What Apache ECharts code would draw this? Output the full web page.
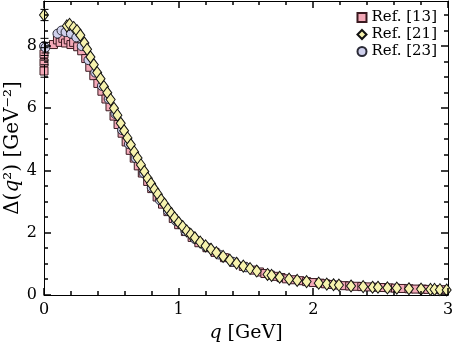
<!DOCTYPE html>
<html>
<head>
<meta charset="utf-8">
<script src="https://cdn.jsdelivr.net/npm/echarts@6/dist/echarts.min.js"></script>
<style>
  html, body { margin: 0; padding: 0; background: #fff; }
  #chart { width: 454px; height: 350px; }
</style>
</head>
<body>
<div id="chart"></div>
<script>
// lattice data: [q (GeV), Delta (GeV^-2)]
const ref13 = [
  [0, 7.2], [0, 7.47], [0, 7.75], [0.07, 8.05], [0.1, 8.2], [0.12, 8.12], [0.14, 8.25], [0.16, 8.1],
  [0.18, 8.2], [0.2, 8.05], [0.22, 8.12], [0.25, 7.98], [0.28, 7.85], [0.31, 7.6], [0.34, 7.32],
  [0.37, 7.05], [0.4, 6.8], [0.43, 6.55], [0.46, 6.3], [0.49, 6.05], [0.52, 5.75], [0.55, 5.48],
  [0.58, 5.2], [0.61, 4.92], [0.64, 4.65], [0.67, 4.4], [0.7, 4.15], [0.73, 3.92], [0.77, 3.65],
  [0.8, 3.42], [0.84, 3.15], [0.88, 2.92], [0.92, 2.68], [0.96, 2.46], [1.0, 2.26], [1.05, 2.04],
  [1.1, 1.85], [1.15, 1.68], [1.21, 1.52], [1.27, 1.37], [1.34, 1.2], [1.41, 1.05], [1.48, 0.92],
  [1.56, 0.8], [1.6, 0.74], [1.64, 0.69], [1.68, 0.64], [1.72, 0.6], [1.76, 0.56], [1.8, 0.52],
  [1.85, 0.49], [1.9, 0.46], [1.95, 0.43], [2.0, 0.4], [2.05, 0.38], [2.09, 0.36], [2.13, 0.34],
  [2.18, 0.32], [2.23, 0.3], [2.27, 0.29], [2.32, 0.28], [2.36, 0.27], [2.41, 0.26], [2.46, 0.25],
  [2.51, 0.24], [2.56, 0.23], [2.61, 0.22], [2.66, 0.21], [2.71, 0.2], [2.76, 0.19], [2.81, 0.19],
  [2.85, 0.18], [2.9, 0.17], [2.95, 0.17]
];
const ref21 = [
  [0, 9.0], [0.17, 8.65], [0.19, 8.7], [0.22, 8.6], [0.245, 8.5], [0.27, 8.35], [0.3, 8.1],
  [0.32, 7.9], [0.345, 7.65], [0.37, 7.4], [0.395, 7.15], [0.42, 6.95], [0.445, 6.7], [0.47, 6.5],
  [0.495, 6.28], [0.52, 6.0], [0.545, 5.78], [0.57, 5.52], [0.595, 5.28], [0.62, 5.05], [0.645, 4.83],
  [0.67, 4.6], [0.695, 4.4], [0.72, 4.18], [0.745, 3.97], [0.77, 3.75], [0.795, 3.58], [0.82, 3.4],
  [0.845, 3.24], [0.87, 3.06], [0.895, 2.92], [0.92, 2.76], [0.945, 2.62], [0.97, 2.48], [1.0, 2.33],
  [1.03, 2.2], [1.06, 2.06], [1.09, 1.95], [1.12, 1.84], [1.16, 1.7], [1.2, 1.58], [1.24, 1.47],
  [1.28, 1.36], [1.33, 1.24], [1.38, 1.12], [1.43, 1.02], [1.48, 0.93], [1.53, 0.85], [1.58, 0.77],
  [1.66, 0.66], [1.69, 0.63], [1.75, 0.57], [1.82, 0.51], [1.88, 0.47], [1.95, 0.43], [2.04, 0.38],
  [2.1, 0.35], [2.15, 0.33], [2.19, 0.32], [2.28, 0.29], [2.37, 0.27], [2.44, 0.25], [2.48, 0.25],
  [2.55, 0.23], [2.62, 0.22], [2.71, 0.2], [2.8, 0.19], [2.87, 0.18], [2.9, 0.18], [2.94, 0.17],
  [2.99, 0.16]
];
const ref23 = [
  [0, 8.0], [0.01, 7.95], [0.1, 8.4], [0.13, 8.5], [0.16, 8.45], [0.2, 8.4], [0.24, 8.28],
  [0.28, 8.0], [0.33, 7.55], [0.38, 7.15], [0.43, 6.72], [0.48, 6.3], [0.53, 5.82], [0.58, 5.3],
  [0.63, 4.85], [0.68, 4.4], [0.74, 3.92], [0.8, 3.45], [0.86, 3.05], [0.92, 2.7], [0.98, 2.38],
  [1.05, 2.05], [1.12, 1.8], [1.2, 1.56], [1.3, 1.3], [1.4, 1.07], [1.5, 0.89]
];
// error bars visible near q = 0: [q, low, high]
const errBars = [
  [0, 8.82, 9.18], [0, 7.0, 7.4], [0, 7.55, 7.95], [0, 7.7, 8.25], [0.01, 7.78, 8.12]
];
const xTicks = [0, 1, 2, 3];
const xMinorTicks = [0.2, 0.4, 0.6, 0.8, 1.2, 1.4, 1.6, 1.8, 2.2, 2.4, 2.6, 2.8];
const yTicks = [0, 2, 4, 6, 8];
const yMinorTicks = [0.5, 1, 1.5, 2.5, 3, 3.5, 4.5, 5, 5.5, 6.5, 7, 7.5, 8.5, 9];
const yMax = 9.45;

const serif = 'DejaVu Serif';
const chart = echarts.init(document.getElementById('chart'), null, { renderer: 'canvas' });

function xAx(pos, labels) {
  return {
    type: 'value', position: pos, min: xTicks[0], max: xTicks[xTicks.length - 1], interval: 1,
    axisLine: { show: true, onZero: false, lineStyle: { color: '#000', width: 1 } },
    axisTick: { show: false }, minorTick: { show: false }, splitLine: { show: false },
    axisLabel: { show: labels, color: '#000', fontFamily: serif, fontSize: 16, margin: 7 },
    name: labels ? '{i|q} [GeV]' : '', nameLocation: 'middle', nameGap: 29, nameMoveOverlap: false,
    nameTextStyle: { color: '#000', fontFamily: serif, fontSize: 19,
      rich: { i: { fontStyle: 'italic', fontFamily: serif, fontSize: 19, color: '#000' } } }
  };
}
function yAx(pos, labels) {
  return {
    type: 'value', position: pos, min: 0, max: yMax, interval: 2,
    axisLine: { show: true, onZero: false, lineStyle: { color: '#000', width: 1 } },
    axisTick: { show: false }, minorTick: { show: false }, splitLine: { show: false },
    axisLabel: { show: labels, color: '#000', fontFamily: serif, fontSize: 16, margin: 7, showMaxLabel: false },
    name: labels ? 'Δ({i|q}²) [GeV⁻²]' : '', nameLocation: 'middle', nameGap: 21, nameRotate: 90,
    nameMoveOverlap: false,
    nameTextStyle: { color: '#000', fontFamily: serif, fontSize: 20,
      rich: { i: { fontStyle: 'italic', fontFamily: serif, fontSize: 20, color: '#000' } } }
  };
}

// tick marks as [x, y, kind]: kind 0/1 = x major/minor, 2/3 = y major/minor
const tickData = []
  .concat(xTicks.map(function (v) { return [v, 0.1, 0]; }))
  .concat(xMinorTicks.map(function (v) { return [v, 0.1, 1]; }))
  .concat(yTicks.map(function (v) { return [0.1, v, 2]; }))
  .concat(yMinorTicks.map(function (v) { return [0.1, v, 3]; }));

function renderTick(params, api) {
  const kind = api.value(2);
  const len = (kind === 0 || kind === 2) ? 7 : 4;
  const st = { stroke: '#000', lineWidth: 1.5, fill: null };
  if (kind < 2) {
    const b = api.coord([api.value(0), 0]);
    const t = api.coord([api.value(0), yMax]);
    const x = Math.round(b[0]);
    return { type: 'group', children: [
      { type: 'line', shape: { x1: x, y1: b[1], x2: x, y2: b[1] - len }, style: st },
      { type: 'line', shape: { x1: x, y1: t[1], x2: x, y2: t[1] + len }, style: st }
    ] };
  }
  const l = api.coord([xTicks[0], api.value(1)]);
  const r = api.coord([xTicks[xTicks.length - 1], api.value(1)]);
  const y = Math.round(l[1]);
  return { type: 'group', children: [
    { type: 'line', shape: { x1: l[0], y1: y, x2: l[0] + len, y2: y }, style: st },
    { type: 'line', shape: { x1: r[0], y1: y, x2: r[0] - len, y2: y }, style: st }
  ] };
}

function renderErr(params, api) {
  const top = api.coord([api.value(0), api.value(2)]);
  const bot = api.coord([api.value(0), api.value(1)]);
  const x = Math.round(top[0]) + 0.5, w = 4;
  const st = { stroke: '#000', lineWidth: 1, fill: null };
  return { type: 'group', children: [
    { type: 'line', shape: { x1: x, y1: top[1], x2: x, y2: bot[1] }, style: st },
    { type: 'line', shape: { x1: x - w, y1: top[1], x2: x + w, y2: top[1] }, style: st },
    { type: 'line', shape: { x1: x - w, y1: bot[1], x2: x + w, y2: bot[1] }, style: st }
  ] };
}

const option = {
  animation: false,
  backgroundColor: '#fff',
  grid: { left: 44, right: 6, top: 1, bottom: 55, outerBoundsMode: 'none', containLabel: false },
  xAxis: [xAx('bottom', true), xAx('top', false)],
  yAxis: [yAx('left', true), yAx('right', false)],
  legend: {
    data: ['Ref. [13]', 'Ref. [21]', 'Ref. [23]'],
    orient: 'vertical', right: 12, top: 5, itemGap: 2, itemWidth: 9, itemHeight: 9,
    textStyle: { fontFamily: serif, fontSize: 15, color: '#000' }
  },
  series: [
    {
      name: 'Ref. [13]', type: 'scatter', symbol: 'rect', symbolSize: 8, z: 2, data: ref13,
      itemStyle: { color: '#f4a9b8', borderColor: '#3a1a20', borderWidth: 1, opacity: 1 }
    },
    {
      name: 'Ref. [23]', type: 'scatter', symbol: 'circle', symbolSize: 9, z: 3, data: ref23,
      itemStyle: { color: '#cfd0ec', borderColor: '#2a2a36', borderWidth: 1, opacity: 1 }
    },
    {
      name: 'Ref. [21]', type: 'scatter', symbol: 'diamond', symbolSize: [9, 12], z: 4, data: ref21,
      itemStyle: { color: '#f6f2ad', borderColor: '#111', borderWidth: 1, opacity: 1 }
    },
    { type: 'custom', name: 'err', z: 5, silent: true, clip: false, renderItem: renderErr, data: errBars },
    { type: 'custom', name: 'ticks', z: 5, silent: true, clip: false, renderItem: renderTick, data: tickData }
  ]
};

chart.setOption(option);
</script>
</body>
</html>
